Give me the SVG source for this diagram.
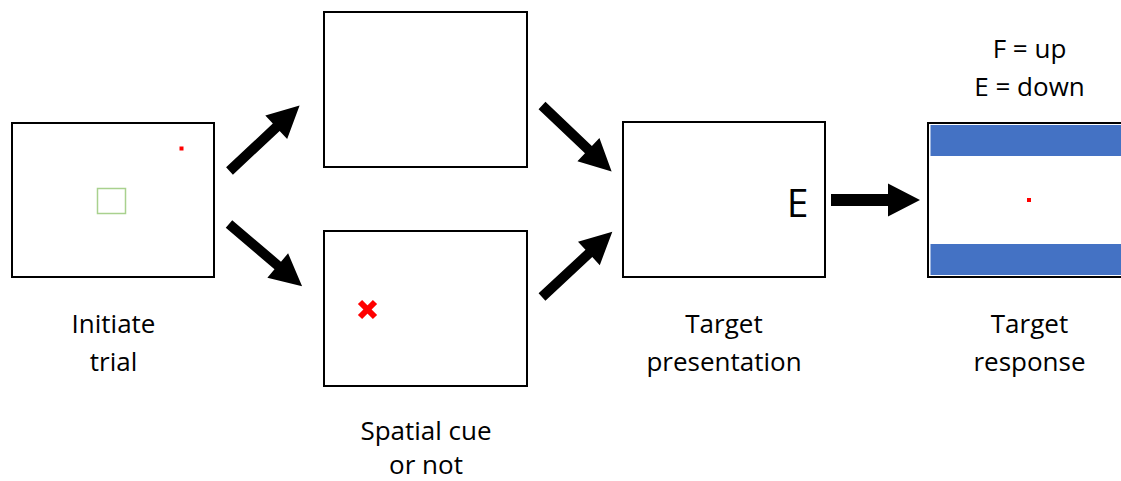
<svg xmlns="http://www.w3.org/2000/svg" width="1121" height="481" viewBox="0 0 1121 481">
  <style>
    .box { fill: #ffffff; stroke: #000000; stroke-width: 2; }
    .lbl { font-family: "Open Sans", "Noto Sans", sans-serif; font-size: 26px; fill: #000000; text-anchor: middle; }
    .arrow { fill: #000000; }
    .bar { fill: #4472C4; }
    .dot { fill: #FF0000; }
  </style>
  <defs>
    <path id="diag" d="M0,-5 L64,-5 L64,-16 L96,0 L64,16 L64,5 L0,5 Z"/>
  </defs>
  <rect width="1121" height="481" fill="#ffffff"/>

  <g id="node-initiate">
    <rect class="box" x="12" y="123" width="202" height="154"/>
    <rect class="dot" x="179.5" y="146.5" width="4" height="4"/>
    <rect x="97.5" y="188.5" width="28" height="25" fill="none" stroke="#A9D18E" stroke-width="1.5"/>
    <text class="lbl" x="113.5" y="333">Initiate</text>
    <text class="lbl" x="113.5" y="371">trial</text>
  </g>

  <g id="node-nocue">
    <rect class="box" x="324" y="12" width="203" height="155"/>
  </g>

  <g id="node-cue">
    <rect class="box" x="324" y="231" width="203" height="155"/>
    <g stroke="#FF0000" stroke-width="6">
      <line x1="360" y1="302" x2="375" y2="317"/>
      <line x1="375" y1="302" x2="360" y2="317"/>
    </g>
    <text class="lbl" x="426" y="440">Spatial cue</text>
    <text class="lbl" x="426" y="474">or not</text>
  </g>

  <g id="node-target">
    <rect class="box" x="623" y="122" width="202" height="155"/>
    <text x="797.5" y="217" font-family="'Open Sans', 'Noto Sans', sans-serif" font-size="39" text-anchor="middle" fill="#000">E</text>
    <text class="lbl" x="724" y="333">Target</text>
    <text class="lbl" x="724" y="371">presentation</text>
  </g>

  <g id="node-response">
    <rect class="box" x="928" y="123" width="200" height="154"/>
    <rect class="bar" x="930.5" y="125" width="195" height="31"/>
    <rect class="bar" x="930.5" y="244" width="195" height="31"/>
    <rect class="dot" x="1027" y="198" width="4" height="4"/>
    <text class="lbl" x="1029.5" y="58">F = up</text>
    <text class="lbl" x="1029.5" y="96">E = down</text>
    <text class="lbl" x="1029.5" y="333">Target</text>
    <text class="lbl" x="1029.5" y="371">response</text>
  </g>

  <g id="connectors">
    <use href="#diag" class="arrow" transform="translate(229.5,171) rotate(-43.1)"/>
    <use href="#diag" class="arrow" transform="translate(229,224) rotate(40.4)"/>
    <use href="#diag" class="arrow" transform="translate(542,105.5) rotate(43.5)"/>
    <use href="#diag" class="arrow" transform="translate(542,297) rotate(-42.9)"/>
    <path class="arrow" d="M831,194 L888,194 L888,183.5 L920,200 L888,216.5 L888,206 L831,206 Z"/>
  </g>
</svg>
